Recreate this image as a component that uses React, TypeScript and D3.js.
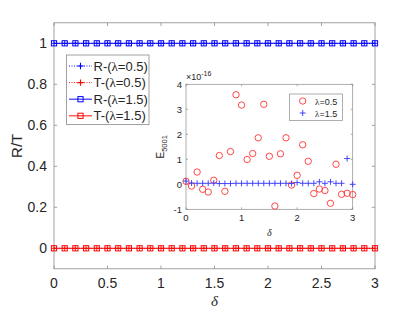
import React from "react";
import * as d3 from "d3";

const deltas: number[] = d3.range(0, 31).map((i) => +(i / 10).toFixed(1));
const R05: number[] = Array(31).fill(1);
const T05: number[] = Array(31).fill(0);
const R15: number[] = Array(31).fill(1);
const T15: number[] = Array(31).fill(0);

const mainXTicks = [0, 0.5, 1, 1.5, 2, 2.5, 3];
const mainYTicks = [0, 0.2, 0.4, 0.6, 0.8, 1];

const insetE05: number[] = [
  0.12, -0.07, 0.49, -0.2, -0.31, 0.16, 1.15, -0.28, 1.31, 3.58, 3.17,
  0.99, 1.23, 1.86, 3.2, 1.12, -0.87, 1.22, 1.86, -0.03, 0.36,
  1.58, 0.92, -0.37, -0.19, -0.25, -0.76, 0.8, -0.4, -0.36, -0.41,
];
const insetE15: number[] = [
  0.13, 0.05, 0.04, 0.04, 0.04, 0.05, 0.03, 0.03, 0.03, 0.04, 0.04,
  0.04, 0.04, 0.04, 0.04, 0.04, 0.04, 0.04, 0.04, 0.03, 0.07,
  0.04, 0.04, 0.04, 0.1, 0.04, 0.1, 0.04, 0.04, 1.03, 0.0,
];
const insetXTicks = [0, 1, 2, 3];
const insetYTicks = [-1, 0, 1, 2, 3, 4];

const FONT = "'Liberation Sans', Arial, Helvetica, sans-serif";
const AX = "#262626";
const LN = "#8a8a8a";
const BLUE = "#0000ff";
const RED = "#ff0000";

function Plus({ x, y, s, color, w = 1 }: any) {
  return (
    <path d={`M${x - s},${y}H${x + s}M${x},${y - s}V${y + s}`} stroke={color} strokeWidth={w} fill="none" />
  );
}
function Sq({ x, y, s, color }: any) {
  return <rect x={x - s} y={y - s} width={2 * s} height={2 * s} stroke={color} strokeWidth={1} fill="none" />;
}

export default function App() {
  const W = 415, H = 312;
  const x = d3.scaleLinear().domain([0, 3]).range([54, 375]);
  const y = d3.scaleLinear().domain([-0.1, 1.1]).range([268.8, 22.8]);
  const ix = d3.scaleLinear().domain([0, 3]).range([186, 352.7]);
  const iy = d3.scaleLinear().domain([-1, 4]).range([209.3, 84.3]);

  const line = (vals: number[]) =>
    d3.line<number>().x((_, i) => x(deltas[i])).y((v) => y(v))(vals) || "";

  const series = [
    { vals: R15, color: BLUE },
    { vals: T15, color: RED },
  ];

  return (
    <svg width={W} height={H} style={{ position: "absolute", left: 0, top: 0, background: "#fff" }} fontFamily={FONT}>
      <rect x={0} y={0} width={W} height={H} fill="#fff" />
      {/* main axes box */}
      <rect x={x(0)} y={y(1.1)} width={x(3) - x(0)} height={y(-0.1) - y(1.1)} fill="#fff" stroke={LN} strokeWidth={0.8} />
      {mainXTicks.map((t) => (
        <g key={"mx" + t}>
          <line x1={x(t)} x2={x(t)} y1={y(-0.1)} y2={y(-0.1) - 3.2} stroke={LN} strokeWidth={0.8} />
          <line x1={x(t)} x2={x(t)} y1={y(1.1)} y2={y(1.1) + 3.2} stroke={LN} strokeWidth={0.8} />
          <text x={x(t)} y={y(-0.1) + 19} fontSize={14} textAnchor="middle" fill={AX}>{t}</text>
        </g>
      ))}
      {mainYTicks.map((t) => (
        <g key={"my" + t}>
          <line x1={x(0)} x2={x(0) + 3.2} y1={y(t)} y2={y(t)} stroke={LN} strokeWidth={0.8} />
          <line x1={x(3)} x2={x(3) - 3.2} y1={y(t)} y2={y(t)} stroke={LN} strokeWidth={0.8} />
          <text x={x(0) - 7} y={y(t) + 5} fontSize={14} textAnchor="end" fill={AX}>{t}</text>
        </g>
      ))}
      <text x={x(1.5)} y={306} fontSize={15} fontStyle="italic" fontFamily="'Liberation Serif', serif" textAnchor="middle" fill={AX}>δ</text>
      <text transform={`translate(22,${y(0.5)}) rotate(-90)`} fontSize={15} textAnchor="middle" fill={AX}>R/T</text>

      {/* main series */}
      {series.map((s, k) => (
        <g key={"s" + k}>
          <path d={line(s.vals)} stroke={s.color} strokeWidth={1.2} fill="none" opacity={0.8} />
          {s.vals.map((v, i) => (
            <Sq key={i} x={x(deltas[i])} y={y(v)} s={2.6} color={s.color} />
          ))}
        </g>
      ))}
      {[{ vals: R05, color: BLUE }, { vals: T05, color: RED }].map((s, k) => (
        <g key={"p" + k}>
          <path d={line(s.vals)} stroke={s.color} strokeWidth={0.9} strokeDasharray="1,1.5" fill="none" />
          {s.vals.map((v, i) => (
            <Plus key={i} x={x(deltas[i])} y={y(v)} s={2.5} color={s.color} w={0.9} />
          ))}
        </g>
      ))}

      {/* main legend */}
      <rect x={66.5} y={55} width={82.5} height={69.5} fill="#fff" stroke={LN} strokeWidth={0.8} />
      {[
        { label: "R-(", lam: "0.5", color: BLUE, kind: "dot" },
        { label: "T-(", lam: "0.5", color: RED, kind: "dot" },
        { label: "R-(", lam: "1.5", color: BLUE, kind: "sq" },
        { label: "T-(", lam: "1.5", color: RED, kind: "sq" },
      ].map((e, i) => {
        const ly = 66 + i * 16.6;
        return (
          <g key={"lg" + i}>
            {e.kind === "dot" ? (
              <>
                <line x1={69} x2={92} y1={ly} y2={ly} stroke={e.color} strokeWidth={0.9} strokeDasharray="1,1.5" />
                <Plus x={80.5} y={ly} s={3.2} color={e.color} w={1.1} />
              </>
            ) : (
              <>
                <line x1={69} x2={92} y1={ly} y2={ly} stroke={e.color} strokeWidth={1.2} opacity={0.8} />
                <Sq x={80.5} y={ly} s={2.6} color={e.color} />
              </>
            )}
            <text x={93.5} y={ly + 4.6} fontSize={13} fill={AX}>
              {e.label}
              <tspan fontFamily="'Liberation Serif', serif">λ</tspan>=
              {e.lam})
            </text>
          </g>
        );
      })}

      {/* inset */}
      <rect x={ix(0)} y={iy(4)} width={ix(3) - ix(0)} height={iy(-1) - iy(4)} fill="#fff" stroke={LN} strokeWidth={0.7} />
      {insetXTicks.map((t) => (
        <g key={"ix" + t}>
          <line x1={ix(t)} x2={ix(t)} y1={iy(-1)} y2={iy(-1) - 2} stroke={LN} strokeWidth={0.7} />
          <line x1={ix(t)} x2={ix(t)} y1={iy(4)} y2={iy(4) + 2} stroke={LN} strokeWidth={0.7} />
          <text x={ix(t)} y={iy(-1) + 12} fontSize={9.5} textAnchor="middle" fill={AX}>{t}</text>
        </g>
      ))}
      {insetYTicks.map((t) => (
        <g key={"iy" + t}>
          <line x1={ix(0)} x2={ix(0) + 2} y1={iy(t)} y2={iy(t)} stroke={LN} strokeWidth={0.7} />
          <line x1={ix(3)} x2={ix(3) - 2} y1={iy(t)} y2={iy(t)} stroke={LN} strokeWidth={0.7} />
          <text x={ix(0) - 4} y={iy(t) + 3.5} fontSize={9.5} textAnchor="end" fill={AX}>{t}</text>
        </g>
      ))}
      <text x={ix(0)} y={iy(4) - 4} fontSize={9} fill={AX}>
        ×10<tspan dy={-4} fontSize={7}>-16</tspan>
      </text>
      <text x={ix(1.5)} y={236} fontSize={10} fontStyle="italic" fontFamily="'Liberation Serif', serif" textAnchor="middle" fill={AX}>δ</text>
      <text transform={`translate(164,${iy(1.5)}) rotate(-90)`} fontSize={10} textAnchor="middle" fill={AX}>
        E<tspan dy={3} fontSize={7.5}>5001</tspan>
      </text>
      {insetE05.map((v, i) => (
        <circle key={"c" + i} cx={ix(deltas[i])} cy={iy(v)} r={3.2} fill="none" stroke="#ff3333" strokeWidth={0.9} />
      ))}
      {insetE15.map((v, i) => (
        <Plus key={"pp" + i} x={ix(deltas[i])} y={iy(v)} s={3} color="#3333ff" w={0.9} />
      ))}
      {/* inset legend */}
      <rect x={289.5} y={94} width={53} height={26.5} fill="#fff" stroke={LN} strokeWidth={0.7} />
      <circle cx={302.7} cy={101} r={3.2} fill="none" stroke="#ff3333" strokeWidth={0.9} />
      <Plus x={302.7} y={113} s={3} color="#3333ff" w={0.9} />
      <text x={315} y={104.5} fontSize={9} fill={AX}>
        <tspan fontFamily="'Liberation Serif', serif">λ</tspan>=0.5
      </text>
      <text x={315} y={116.5} fontSize={9} fill={AX}>
        <tspan fontFamily="'Liberation Serif', serif">λ</tspan>=1.5
      </text>
    </svg>
  );
}
